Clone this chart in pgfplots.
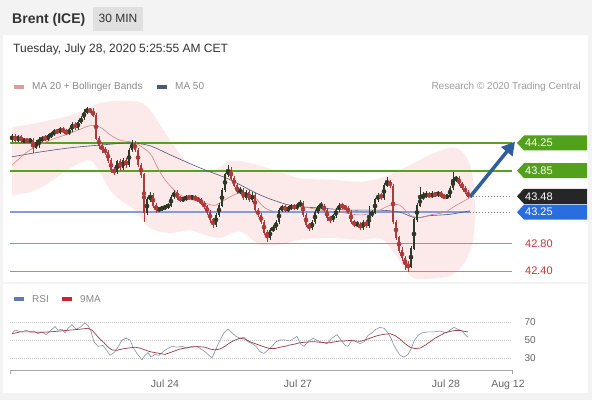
\documentclass[border=0pt]{standalone}
\usepackage{pgfplots}
\pgfplotsset{compat=1.18}
\usepackage{pgfplotstable}
\usepackage{fontspec}
\setmainfont{Liberation Sans}
\usetikzlibrary{arrows.meta}

\definecolor{upc}{RGB}{45,56,38}
\definecolor{dnc}{RGB}{172,58,58}
\definecolor{bandc}{RGB}{252,233,233}
\definecolor{ma20c}{RGB}{214,130,130}
\definecolor{ma50c}{RGB}{75,88,120}
\definecolor{grn}{RGB}{92,158,36}
\definecolor{lvlblue}{RGB}{132,156,220}
\definecolor{lvlred}{RGB}{172,140,140}
\definecolor{taggreen}{RGB}{82,161,29}
\definecolor{tagdark}{RGB}{38,38,38}
\definecolor{tagblue}{RGB}{42,109,224}
\definecolor{redtxt}{RGB}{192,56,56}
\definecolor{arrowc}{RGB}{47,93,158}
\definecolor{rsic}{RGB}{135,145,172}
\definecolor{mac}{RGB}{150,60,70}
\definecolor{hdr}{RGB}{243,243,243}
\definecolor{minbox}{RGB}{224,224,224}
\definecolor{txt}{RGB}{51,51,51}
\definecolor{lgtxt}{RGB}{138,138,138}
\definecolor{tickc}{RGB}{102,102,102}
\definecolor{axisgray}{RGB}{165,165,165}
\definecolor{gridc}{RGB}{200,200,200}
\definecolor{rsisw}{RGB}{95,122,180}
\definecolor{masw}{RGB}{204,34,40}

\pgfplotstableread{
x o h l c
12 44.30 44.38 44.27 44.35
15 44.35 44.38 44.26 44.29
18 44.29 44.37 44.26 44.34
21 44.34 44.37 44.25 44.28
24 44.28 44.32 44.25 44.29
27 44.29 44.32 44.25 44.28
30 44.28 44.32 44.25 44.29
33 44.29 44.32 44.11 44.19
36 44.19 44.29 44.16 44.26
39 44.26 44.33 44.18 44.29
42 44.29 44.35 44.26 44.32
45 44.32 44.36 44.28 44.31
48 44.31 44.38 44.28 44.35
51 44.35 44.41 44.32 44.38
54 44.38 44.45 44.35 44.42
57 44.42 44.45 44.38 44.41
60 44.41 44.48 44.38 44.45
63 44.45 44.48 44.39 44.42
66 44.42 44.45 44.36 44.39
69 44.39 44.47 44.36 44.44
72 44.44 44.55 44.41 44.52
75 44.52 44.55 44.44 44.47
78 44.47 44.58 44.44 44.55
81 44.55 44.64 44.52 44.61
84 44.61 44.74 44.58 44.70
87 44.70 44.77 44.67 44.73
90 44.73 44.76 44.68 44.71
93 44.71 44.75 44.62 44.65
96 44.65 44.68 44.29 44.32
99 44.32 44.35 44.17 44.21
102 44.21 44.25 44.11 44.15
105 44.15 44.19 44.08 44.12
108 44.12 44.15 43.96 44.00
111 44.00 44.03 43.82 43.86
114 43.86 43.90 43.79 43.83
117 43.83 44.01 43.80 43.98
120 43.98 44.02 43.85 43.89
123 43.89 44.04 43.86 44.00
126 44.00 44.03 43.89 43.93
129 43.93 44.18 43.90 44.15
132 44.15 44.29 44.12 44.25
135 44.25 44.28 44.12 44.15
138 44.15 44.18 43.90 43.93
141 43.93 43.96 43.75 43.79
144 43.79 43.82 43.11 43.25
147 43.25 43.47 43.21 43.43
150 43.43 43.54 43.40 43.50
153 43.50 43.53 43.31 43.35
156 43.35 43.38 43.24 43.28
159 43.28 43.33 43.25 43.30
162 43.30 43.34 43.27 43.31
165 43.31 43.36 43.28 43.33
168 43.33 43.38 43.30 43.35
171 43.35 43.50 43.32 43.47
174 43.47 43.57 43.44 43.54
177 43.54 43.57 43.43 43.46
180 43.46 43.49 43.40 43.43
183 43.43 43.47 43.40 43.44
186 43.44 43.50 43.41 43.47
189 43.47 43.50 43.43 43.46
192 43.46 43.50 43.43 43.47
195 43.47 43.50 43.41 43.44
198 43.44 43.47 43.40 43.43
201 43.43 43.46 43.35 43.38
204 43.38 43.41 43.30 43.33
207 43.33 43.36 43.21 43.25
210 43.25 43.28 43.10 43.14
213 43.14 43.17 43.02 43.07
216 43.07 43.24 43.04 43.21
219 43.21 43.38 43.18 43.35
222 43.35 43.60 43.32 43.57
225 43.57 43.82 43.54 43.79
228 43.79 43.93 43.76 43.86
231 43.86 43.90 43.71 43.74
234 43.74 43.77 43.61 43.64
237 43.64 43.67 43.51 43.54
240 43.54 43.61 43.51 43.57
243 43.57 43.60 43.43 43.46
246 43.46 43.57 43.43 43.54
249 43.54 43.57 43.40 43.43
252 43.43 43.54 43.40 43.50
255 43.50 43.53 43.25 43.28
258 43.28 43.31 43.18 43.21
261 43.21 43.24 43.08 43.11
264 43.11 43.14 42.92 42.96
267 42.96 42.99 42.82 42.88
270 42.88 43.02 42.85 42.99
273 42.99 43.06 42.96 43.02
276 43.02 43.14 42.99 43.11
279 43.11 43.31 43.08 43.28
282 43.28 43.36 43.25 43.33
285 43.33 43.36 43.25 43.28
288 43.28 43.34 43.25 43.31
291 43.31 43.37 43.28 43.34
294 43.34 43.37 43.28 43.31
297 43.31 43.38 43.28 43.35
300 43.35 43.42 43.32 43.38
303 43.38 43.41 43.18 43.21
306 43.21 43.24 43.03 43.07
309 43.07 43.10 42.98 43.02
312 43.02 43.14 42.99 43.11
315 43.11 43.28 43.08 43.25
318 43.25 43.36 43.22 43.33
321 43.33 43.40 43.30 43.34
324 43.34 43.37 43.25 43.28
327 43.28 43.31 43.13 43.17
330 43.17 43.20 43.10 43.14
333 43.14 43.23 43.11 43.20
336 43.20 43.31 43.17 43.28
339 43.28 43.38 43.25 43.35
342 43.35 43.38 43.30 43.33
345 43.33 43.36 43.28 43.31
348 43.31 43.34 43.22 43.25
351 43.25 43.28 43.08 43.11
354 43.11 43.14 43.04 43.07
357 43.07 43.12 43.04 43.08
360 43.08 43.11 42.99 43.02
363 43.02 43.14 42.99 43.11
366 43.11 43.14 43.02 43.05
369 43.05 43.34 43.02 43.21
372 43.21 43.28 43.18 43.25
375 43.25 43.46 43.22 43.43
378 43.43 43.53 43.40 43.50
381 43.50 43.53 43.43 43.46
384 43.46 43.67 43.43 43.64
387 43.64 43.76 43.61 43.69
390 43.69 43.72 43.60 43.63
393 43.63 43.66 43.08 43.11
396 43.11 43.14 42.85 42.88
399 42.88 42.91 42.66 42.70
402 42.70 42.74 42.55 42.59
405 42.59 42.62 42.42 42.49
408 42.49 42.55 42.39 42.47
411 42.47 42.76 42.44 42.73
414 42.73 43.17 42.70 43.14
417 43.14 43.38 43.11 43.35
420 43.35 43.62 43.32 43.46
423 43.46 43.54 43.43 43.48
426 43.48 43.55 43.45 43.51
429 43.51 43.54 43.45 43.48
432 43.48 43.55 43.45 43.51
435 43.51 43.54 43.47 43.50
438 43.50 43.56 43.47 43.53
441 43.53 43.56 43.45 43.48
444 43.48 43.51 43.44 43.47
447 43.47 43.51 43.44 43.48
450 43.48 43.63 43.45 43.60
453 43.60 43.83 43.57 43.72
456 43.72 43.78 43.69 43.74
459 43.74 43.77 43.63 43.66
462 43.66 43.69 43.57 43.60
465 43.60 43.63 43.51 43.54
468 43.54 43.57 43.45 43.48
}\candles

\begin{document}
\begin{tikzpicture}
% background and frame
\fill[white] (0pt,0pt) rectangle (592pt,400pt);
\fill[hdr] (0pt,365pt) rectangle (592pt,400pt);
\fill[hdr] (0pt,0pt) rectangle (3pt,365pt);
\fill[hdr] (588pt,0pt) rectangle (592pt,365pt);
\fill[hdr] (0pt,0pt) rectangle (592pt,7pt);
\fill[hdr] (3pt,116pt) rectangle (588pt,118pt);
\fill[minbox] (93pt,369pt) rectangle (143pt,393pt);
\node[anchor=base west, inner sep=0pt, font=\bfseries\fontsize{14}{14}\selectfont, text=txt] at (12pt,376pt) {Brent (ICE)};
\node[anchor=base, inner sep=0pt, font=\fontsize{12}{12}\selectfont, text=txt] at (118pt,377pt) {30 MIN};
\node[anchor=base west, inner sep=0pt, font=\fontsize{12}{12}\selectfont, text=txt] at (13pt,347pt) {Tuesday, July 28, 2020 5:25:55 AM CET};
% legend main
\fill[ma20c!80] (14pt,311pt) rectangle (24pt,315pt);
\node[anchor=base west, inner sep=0pt, font=\fontsize{10}{10}\selectfont, text=lgtxt] at (32pt,310pt) {MA 20 + Bollinger Bands};
\fill[ma50c] (157pt,311pt) rectangle (167pt,315pt);
\node[anchor=base west, inner sep=0pt, font=\fontsize{10}{10}\selectfont, text=lgtxt] at (175pt,310pt) {MA 50};
\node[anchor=base east, inner sep=0pt, font=\fontsize{10}{10}\selectfont, text=lgtxt!85] at (581pt,310pt) {Research © 2020 Trading Central};
% legend RSI
\fill[rsisw] (14pt,99pt) rectangle (24pt,103pt);
\node[anchor=base west, inner sep=0pt, font=\fontsize{10}{10}\selectfont, text=lgtxt] at (32pt,97.5pt) {RSI};
\fill[masw] (62pt,99pt) rectangle (72pt,103pt);
\node[anchor=base west, inner sep=0pt, font=\fontsize{10}{10}\selectfont, text=lgtxt] at (80pt,97.5pt) {9MA};

\begin{axis}[at={(10pt,115.14pt)}, anchor=south west, width=502pt, height=190.3pt,
  scale only axis, xmin=10, xmax=512, ymin=42.2, ymax=44.95, hide axis, clip=false,
  unbounded coords=discard]
% Bollinger band
\addplot[fill=bandc, draw=none, smooth, forget plot] coordinates {
(12,44.48)(30,44.52)(50,44.58)(70,44.65)(90,44.76)(100,44.83)(120,44.86)(140,44.84)(150,44.73)(160,44.51)(170,44.29)(185,44.00)(200,43.86)(215,43.86)(230,43.99)(250,43.96)(280,43.83)(300,43.74)(330,43.72)(360,43.69)(380,43.74)(395,43.83)(410,43.93)(430,44.08)(450,44.18)(460,44.15)(468,44.00)(473,43.75)(475,43.30)(473,42.85)(465,42.53)(450,42.33)(430,42.29)(412,42.31)(398,42.58)(382,42.86)(360,42.85)(330,42.88)(300,42.85)(280,42.78)(260,42.78)(240,42.97)(220,42.88)(205,42.92)(190,42.99)(170,42.95)(150,43.02)(135,43.28)(120,43.43)(110,43.57)(100,43.83)(90,44.00)(75,43.93)(60,43.79)(45,43.64)(30,43.54)(12,43.50)} -- cycle;
% levels
\addplot[grn, line width=2pt, forget plot] coordinates {(10,44.25)(512,44.25)};
\addplot[grn, line width=2pt, forget plot] coordinates {(10,43.85)(512,43.85)};
\addplot[lvlblue, line width=1.6pt, forget plot] coordinates {(10,43.25)(470,43.25)};
\addplot[gray, line width=0.8pt, dash pattern=on 1pt off 2pt, forget plot] coordinates {(470,43.25)(512,43.25)};
\addplot[gray, line width=0.8pt, dash pattern=on 1pt off 2pt, forget plot] coordinates {(470,43.48)(512,43.48)};
\addplot[lvlred, line width=0.8pt, forget plot] coordinates {(10,42.80)(512,42.80)};
\addplot[lvlred, line width=0.8pt, forget plot] coordinates {(10,42.40)(512,42.40)};
% moving averages
\addplot[ma50c, line width=0.6pt, smooth, forget plot] coordinates {
(12,44.05)(40,44.12)(70,44.18)(100,44.22)(130,44.25)(150,44.21)(170,44.08)(200,43.89)(230,43.72)(260,43.50)(290,43.35)(320,43.31)(350,43.28)(380,43.28)(400,43.25)(415,43.17)(430,43.20)(450,43.22)(470,43.27)};
\addplot[ma20c, line width=0.6pt, smooth, forget plot] coordinates {
(12,43.93)(30,44.15)(50,44.29)(70,44.39)(90,44.50)(100,44.48)(110,44.37)(120,44.29)(135,44.25)(150,44.10)(158,43.88)(166,43.70)(178,43.52)(190,43.44)(205,43.38)(215,43.35)(225,43.43)(240,43.53)(255,43.46)(265,43.31)(280,43.25)(300,43.33)(320,43.28)(340,43.25)(360,43.21)(375,43.25)(390,43.35)(400,43.35)(410,43.21)(420,43.17)(430,43.21)(445,43.25)(455,43.34)(470,43.46)};
% candles: up
\addplot[upc, only marks, mark=none, forget plot,
  error bars/.cd, y dir=both, y explicit, error mark=none,
  error bar style={color=upc, line width=0.6pt, line cap=butt}]
  table[x=x, y expr={\thisrow{c}<\thisrow{o} ? nan : (\thisrow{h}+\thisrow{l})/2},
        y error expr={(\thisrow{h}-\thisrow{l})/2}] {\candles};
\addplot[upc, only marks, mark=none, forget plot,
  error bars/.cd, y dir=both, y explicit, error mark=none,
  error bar style={color=upc, line width=2.4pt, line cap=butt}]
  table[x=x, y expr={\thisrow{c}<\thisrow{o} ? nan : (\thisrow{o}+\thisrow{c})/2},
        y error expr={abs(\thisrow{c}-\thisrow{o})/2+0.005}] {\candles};
% candles: down
\addplot[dnc, only marks, mark=none, forget plot,
  error bars/.cd, y dir=both, y explicit, error mark=none,
  error bar style={color=dnc, line width=0.6pt, line cap=butt}]
  table[x=x, y expr={\thisrow{c}<\thisrow{o} ? (\thisrow{h}+\thisrow{l})/2 : nan},
        y error expr={(\thisrow{h}-\thisrow{l})/2}] {\candles};
\addplot[dnc, only marks, mark=none, forget plot,
  error bars/.cd, y dir=both, y explicit, error mark=none,
  error bar style={color=dnc, line width=2.4pt, line cap=butt}]
  table[x=x, y expr={\thisrow{c}<\thisrow{o} ? (\thisrow{o}+\thisrow{c})/2 : nan},
        y error expr={abs(\thisrow{c}-\thisrow{o})/2+0.005}] {\candles};
% arrow
\draw[arrowc, line width=3.5pt, -{Triangle[length=13pt,width=14pt]}] (axis cs:470,43.47) -- (axis cs:515,44.27);
% tags
\fill[taggreen] (axis cs:517,44.25) -- ++(7pt,7.5pt) -- ++(63pt,0pt) -- ++(0pt,-15pt) -- ++(-63pt,0pt) -- cycle;
\node[anchor=west, inner sep=0pt, text=white, font=\fontsize{11}{11}\selectfont] at (axis cs:525,44.25) {44.25};
\fill[taggreen] (axis cs:517,43.85) -- ++(7pt,7.5pt) -- ++(63pt,0pt) -- ++(0pt,-15pt) -- ++(-63pt,0pt) -- cycle;
\node[anchor=west, inner sep=0pt, text=white, font=\fontsize{11}{11}\selectfont] at (axis cs:525,43.85) {43.85};
\fill[tagdark] (axis cs:517,43.48) -- ++(7pt,7.5pt) -- ++(63pt,0pt) -- ++(0pt,-15pt) -- ++(-63pt,0pt) -- cycle;
\node[anchor=west, inner sep=0pt, text=white, font=\fontsize{11}{11}\selectfont] at (axis cs:525,43.48) {43.48};
\fill[tagblue] (axis cs:517,43.25) -- ++(7pt,7.5pt) -- ++(63pt,0pt) -- ++(0pt,-15pt) -- ++(-63pt,0pt) -- cycle;
\node[anchor=west, inner sep=0pt, text=white, font=\fontsize{11}{11}\selectfont] at (axis cs:525,43.25) {43.25};
\node[anchor=west, inner sep=0pt, text=redtxt, font=\fontsize{11}{11}\selectfont] at (axis cs:525,42.80) {42.80};
\node[anchor=west, inner sep=0pt, text=redtxt, font=\fontsize{11}{11}\selectfont] at (axis cs:525,42.40) {42.40};
\end{axis}

\begin{axis}[at={(10pt,30pt)}, anchor=south west, width=502pt, height=58pt,
  scale only axis, xmin=10, xmax=512, ymin=16.67, ymax=81.11,
  axis x line*=bottom, axis y line*=right,
  x axis line style={-, draw=axisgray, line width=0.9pt},
  y axis line style={draw=none},
  xtick={165,298,446,508}, xticklabels={Jul 24,Jul 27,Jul 28,Aug 12},
  ytick={30,50,70}, ymajorgrids,
  grid style={gridc, line width=0.7pt, dash pattern=on 0.8pt off 1.2pt},
  major tick length=0pt,
  /pgf/number format/assume math mode=true,
  xticklabel style={anchor=base, yshift=-17pt, font=\fontsize{10.5}{10.5}\selectfont, text=tickc},
  yticklabel style={anchor=west, xshift=9pt, font=\fontsize{10}{10}\selectfont, text=tickc},
  extra x ticks={10,512}, extra x tick labels={},
  extra x tick style={major tick length=4pt, tick align=outside, tick style={draw=axisgray, line width=0.9pt}, grid=none},
  clip=false]
\addplot[rsic, line width=0.6pt] coordinates {
(12,57)(15,61)(18,60)(22,59)(26,61)(30,59)(34,60)(38,57)(42,59)(46,56)(50,60)(55,65)(58,61)(62,62)(65,58)(68,63)(72,67)(76,62)(80,64)(85,69)(88,66)(91,60)(94,48)(98,43)(103,44)(107,38)(110,33)(114,36)(118,42)(122,50)(126,52)(130,50)(133,42)(137,35)(142,28)(145,33)(148,36)(151,31)(155,34)(159,33)(163,37)(167,40)(172,43)(177,42)(182,43)(187,41)(192,43)(197,43)(201,40)(205,37)(209,33)(212,30)(216,40)(220,50)(224,58)(228,62)(232,58)(236,54)(240,52)(244,53)(248,48)(252,46)(256,43)(260,37)(264,35)(268,39)(272,43)(276,48)(280,50)(285,50)(290,49)(294,52)(297,54)(301,45)(304,43)(308,48)(313,52)(318,49)(323,47)(327,46)(332,52)(337,56)(341,50)(345,44)(348,43)(352,50)(356,48)(360,46)(364,48)(368,55)(372,58)(376,62)(380,64)(384,63)(388,58)(391,52)(394,44)(397,38)(400,33)(404,31)(408,34)(411,40)(414,49)(418,55)(422,58)(428,59)(434,59)(440,60)(446,58)(450,61)(454,64)(458,62)(462,60)(466,55)(468,53)};
\addplot[mac, line width=0.7pt] coordinates {
(12,57)(20,59)(30,59)(40,58.5)(50,59)(60,60)(70,61)(80,62)(88,63)(92,61)(96,56)(100,51)(104,47)(108,42)(112,39)(117,38.5)(122,40)(128,41)(135,42)(140,41)(145,39)(150,37)(155,36)(160,35)(165,34)(170,36)(175,38)(180,40)(185,41)(190,42)(195,42.5)(200,42.5)(205,42)(210,40)(215,39)(220,40)(225,43)(230,47)(235,50)(240,52)(245,51)(250,48)(255,46)(260,44)(265,42)(270,40.5)(275,40.5)(280,42)(285,43)(290,44.5)(295,45.5)(300,47)(305,47.5)(310,48)(315,48)(320,47.5)(325,47)(330,47)(335,48)(340,49)(345,49)(350,49.5)(355,49)(360,48.5)(365,50)(370,52)(375,54)(380,55.5)(385,56.5)(390,57)(395,55)(400,51)(405,46)(410,42)(415,40.5)(420,41)(425,44)(430,48)(435,52)(440,55)(445,58)(450,59.5)(455,60.5)(460,60.5)(465,59.5)(468,59)};
\end{axis}
\end{tikzpicture}
\end{document}
